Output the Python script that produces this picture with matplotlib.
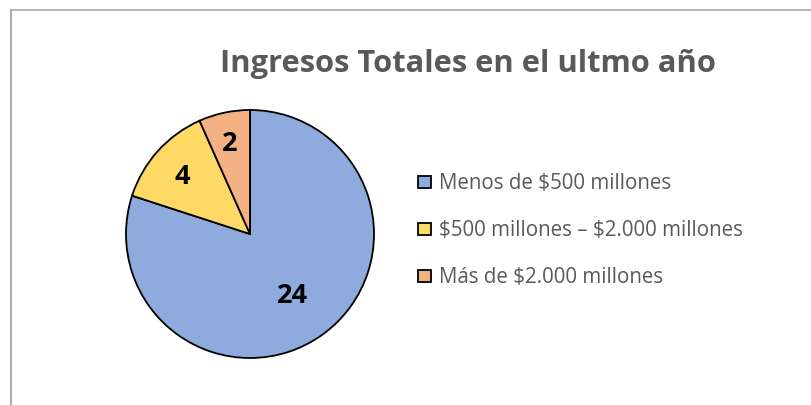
import matplotlib
matplotlib.use("Agg")
import matplotlib.pyplot as plt
import numpy as np
from matplotlib.patches import Rectangle

plt.rcParams["text.parse_math"] = False

categories = ["Menos de $500 millones", "$500 millones – $2.000 millones", "Más de $2.000 millones"]
values = [24, 4, 2]
colors = ["#8FAADC", "#FFD966", "#F4B183"]
title = "Ingresos Totales en el ultmo año"
label_dist = [0.58, 0.73, 0.77]

W, H = 811, 406
fig = plt.figure(figsize=(W / 100, H / 100), dpi=100)
fig.patch.set_facecolor("white")

# frame (top and left edges visible)
fig.add_artist(plt.Line2D([10.5 / W, 10.5 / W], [0, 1 - 10.5 / H], transform=fig.transFigure,
                          color="#ABABAB", lw=1.5))
fig.add_artist(plt.Line2D([10.5 / W, 1], [1 - 10.5 / H, 1 - 10.5 / H], transform=fig.transFigure,
                          color="#ABABAB", lw=1.2))

cx, cy, r = 250, 406 - 235, 124
ax = fig.add_axes([(cx - r) / W, (cy - r) / H, 2 * r / W, 2 * r / H])
wedges, _ = ax.pie(values, colors=colors, startangle=90, counterclock=False, radius=1,
                   wedgeprops=dict(edgecolor="black", linewidth=1.3))
ax.set_xlim(-1, 1)
ax.set_ylim(-1, 1)
ax.set_aspect("equal")
ax.axis("off")

for w, v, d in zip(wedges, values, label_dist):
    ang = np.deg2rad((w.theta1 + w.theta2) / 2)
    ax.text(d * np.cos(ang), d * np.sin(ang) - 0.02, str(v), ha="center", va="center",
            fontsize=19.5, fontweight="bold", color="black", family="Open Sans")

fig.text(468 / W, 1 - 64 / H, title, ha="center", va="center", fontsize=22.2,
         fontweight="bold", color="#595959", family="Open Sans")

rows_y = [183, 229.5, 277]
for cat, col, y in zip(categories, colors, rows_y):
    fig.add_artist(Rectangle((418 / W, 1 - (y + 6) / H), 12.5 / W, 12 / H,
                             transform=fig.transFigure, facecolor=col, edgecolor="black", lw=1.3))
    fig.text(439 / W, 1 - (y + 6.5) / H, cat, ha="left", va="baseline", fontsize=14.8,
             color="#595959", family="Open Sans")

fig.savefig("out.png", dpi=100, facecolor="white")
